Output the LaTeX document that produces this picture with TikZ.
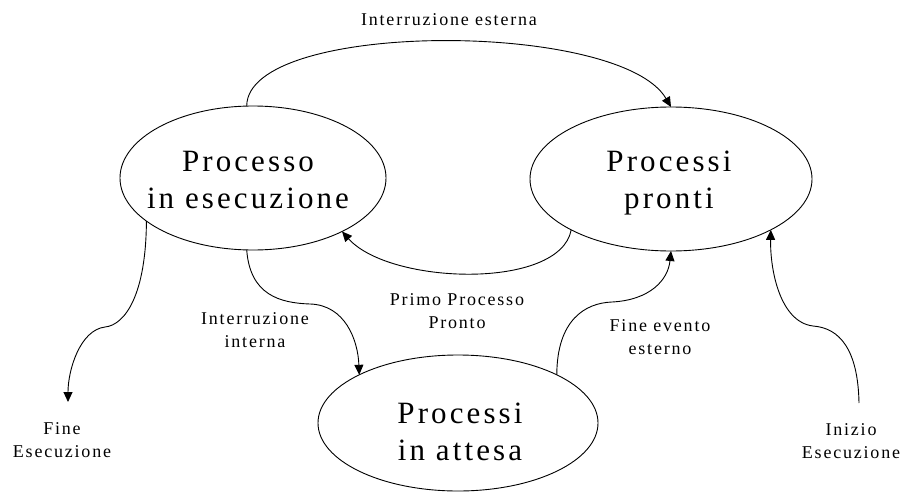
\documentclass[tikz,border=0pt]{standalone}
\usepackage{fontspec}
\usetikzlibrary{shapes.geometric,arrows.meta}
\newfontfamily\statefont[LetterSpace=10]{Liberation Serif}
\newfontfamily\edgefont[LetterSpace=10]{Liberation Serif}

\begin{document}
\begin{tikzpicture}[x=1pt,y=-1pt,
  state/.style={ellipse, draw, line width=0.9pt, inner sep=0pt, outer sep=0pt},
  statetext/.style={align=center, anchor=base, inner sep=0pt,
    font=\statefont\fontsize{31}{37}\selectfont},
  edgelabel/.style={align=center, anchor=base, inner sep=0pt,
    font=\edgefont\fontsize{18}{22.5}\selectfont},
  link/.style={line width=0.9pt, -{Triangle[length=10pt,width=9pt]}},
]
\useasboundingbox (0,0) rectangle (901,495);

% the three process states
\node[state, minimum width=266pt, minimum height=144pt] (exe)   at (253,178) {};
\node[state, minimum width=282pt, minimum height=144pt] (ready) at (671,179) {};
\node[state, minimum width=280pt, minimum height=136pt] (wait)  at (458,423) {};

% state names (base = baseline of the last line)
\node[statetext] (exetext)   at (248,208) {Processo\\in esecuzione};
\node[statetext] (readytext) at (669,208) {Processi\\pronti};
\node[statetext] (waittext)  at (460,460) {Processi\\in attesa};

% free ends of the outer transitions
\coordinate (fineend) at (68,402);
\coordinate (iniziostart) at (859,403);

% transitions
\draw[link] (exe.95) .. controls (247,20) and (620,20) .. (ready.90);
\draw[link] (ready.207) .. controls (560,290) and (390,285) .. (exe.329);
\draw[link] (exe.265) .. controls (250,295) and (280,303) .. (310,304)
  .. controls (345,305) and (358,340) .. (wait.154);
\draw[link] (exe.202) .. controls (146,295) and (125,325) .. (105,327)
  .. controls (80,330) and (68,370) .. (fineend);
\draw[link] (wait.26) .. controls (557,320) and (585,303) .. (612,302)
  .. controls (650,300) and (668,280) .. (ready.270);
\draw[link] (iniziostart) .. controls (858,350) and (840,328) .. (813,326)
  .. controls (780,322) and (770,270) .. (ready.333);

% transition labels
\node[edgelabel] (lblext)    at (449,26)  {Interruzione esterna};
\node[edgelabel] (lblprimo)  at (457,328) {Primo Processo\\Pronto};
\node[edgelabel] (lblint)    at (255,347) {Interruzione\\interna};
\node[edgelabel] (lblevento) at (660,354) {Fine evento\\esterno};
\node[edgelabel] (lblfine)   at (62,457)  {Fine\\Esecuzione};
\node[edgelabel] (lblinizio) at (851,458) {Inizio\\Esecuzione};
\end{tikzpicture}
\end{document}
